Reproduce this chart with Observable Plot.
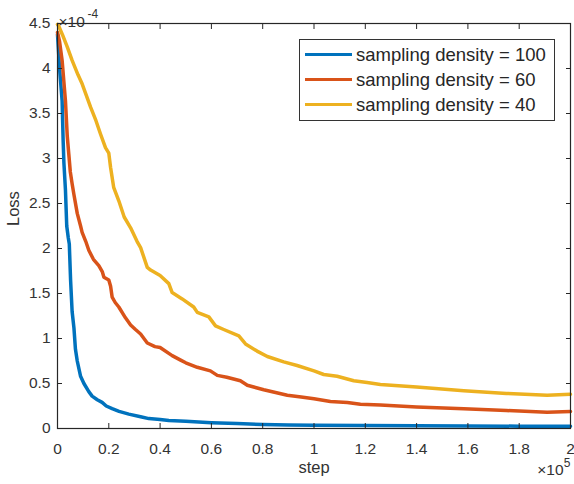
<!DOCTYPE html>
<html>
<head>
<meta charset="utf-8">
<script src="https://cdn.jsdelivr.net/npm/d3@7"></script>
<script src="https://cdn.jsdelivr.net/npm/@observablehq/plot@0.6"></script>
<style>
  html, body { margin: 0; padding: 0; background: #fff; }
  #wrap { position: relative; width: 574px; height: 484px; }
  #legend {
    position: absolute; left: 299px; top: 39px; width: 254px; height: 78px;
    border: 1px solid #333; background: #fff;
    font-family: "Liberation Sans", Arial, sans-serif; font-size: 18.5px; color: #262626;
    box-sizing: content-box; padding-top: 2px;
  }
  .row { display: flex; align-items: center; height: 25px; }
  .sw { width: 47px; height: 3.5px; margin-left: 5px; margin-right: 4px; }
</style>
</head>
<body>
<div id="wrap"></div>
<script>
// step in units of 1e5, loss in units of 1e-4
const seriesNames = ["sampling density = 100", "sampling density = 60", "sampling density = 40"];
const seriesColors = ["#0072BD", "#D95319", "#EDB120"];

const steps100 = [0, 0.008, 0.018, 0.022, 0.025, 0.031, 0.036, 0.042, 0.046, 0.051, 0.057, 0.064, 0.07, 0.077, 0.09, 0.103, 0.122, 0.135, 0.155, 0.174, 0.19, 0.213, 0.24, 0.278, 0.324, 0.356, 0.4, 0.434, 0.5, 0.6, 0.7, 0.8, 0.9, 1.0, 1.2, 1.4, 1.6, 1.8, 2.0];
const loss100  = [4.38, 4.0, 3.64, 3.2, 2.95, 2.65, 2.25, 2.12, 2.05, 1.65, 1.3, 1.12, 0.88, 0.75, 0.58, 0.5, 0.41, 0.36, 0.32, 0.29, 0.25, 0.22, 0.19, 0.16, 0.13, 0.11, 0.1, 0.09, 0.08, 0.065, 0.055, 0.045, 0.04, 0.037, 0.033, 0.03, 0.028, 0.026, 0.025];

const steps60 = [0, 0.008, 0.018, 0.031, 0.038, 0.044, 0.05, 0.057, 0.064, 0.077, 0.09, 0.096, 0.11, 0.122, 0.14, 0.161, 0.175, 0.181, 0.2, 0.207, 0.213, 0.225, 0.239, 0.265, 0.285, 0.304, 0.324, 0.35, 0.38, 0.4, 0.447, 0.48, 0.5, 0.545, 0.596, 0.623, 0.66, 0.713, 0.74, 0.804, 0.85, 0.896, 0.95, 1.0, 1.064, 1.13, 1.181, 1.259, 1.4, 1.584, 1.75, 1.909, 2.0];
const loss60  = [4.4, 4.3, 4.09, 3.64, 3.25, 3.05, 2.85, 2.72, 2.6, 2.39, 2.25, 2.18, 2.08, 1.98, 1.88, 1.81, 1.74, 1.68, 1.65, 1.58, 1.46, 1.4, 1.35, 1.23, 1.15, 1.1, 1.05, 0.95, 0.91, 0.9, 0.81, 0.76, 0.73, 0.68, 0.64, 0.59, 0.57, 0.53, 0.48, 0.43, 0.4, 0.37, 0.35, 0.33, 0.3, 0.29, 0.27, 0.26, 0.24, 0.22, 0.2, 0.18, 0.19];

const steps40 = [0, 0.005, 0.02, 0.038, 0.057, 0.08, 0.096, 0.129, 0.15, 0.168, 0.187, 0.2, 0.207, 0.219, 0.239, 0.26, 0.285, 0.31, 0.324, 0.35, 0.363, 0.4, 0.434, 0.447, 0.486, 0.531, 0.545, 0.59, 0.616, 0.648, 0.707, 0.733, 0.778, 0.818, 0.882, 0.934, 1.0, 1.038, 1.09, 1.155, 1.207, 1.259, 1.4, 1.584, 1.75, 1.909, 2.0];
const loss40  = [4.49, 4.47, 4.37, 4.24, 4.09, 3.93, 3.83, 3.57, 3.42, 3.27, 3.12, 3.06, 2.9, 2.68, 2.53, 2.35, 2.23, 2.08, 2.01, 1.79, 1.76, 1.7, 1.61, 1.51, 1.44, 1.35, 1.29, 1.24, 1.14, 1.1, 1.03, 0.94, 0.86, 0.8, 0.74, 0.7, 0.64, 0.6, 0.58, 0.53, 0.51, 0.49, 0.46, 0.42, 0.39, 0.37, 0.38];

const xTicks = [0, 0.2, 0.4, 0.6, 0.8, 1, 1.2, 1.4, 1.6, 1.8, 2];
const yTicks = [0, 0.5, 1, 1.5, 2, 2.5, 3, 3.5, 4, 4.5];
const xLabel = "step";
const yLabel = "Loss";

const stepsAll = [steps100, steps60, steps40];
const lossAll = [loss100, loss60, loss40];
const data = [];
seriesNames.forEach((name, i) => {
  stepsAll[i].forEach((s, j) => data.push({series: name, step: s, loss: lossAll[i][j]}));
});

const fmt = d => String(d);
const ink = "#262626";

const chart = Plot.plot({
  width: 574, height: 484,
  marginLeft: 57, marginRight: 4, marginTop: 23, marginBottom: 56,
  style: {fontFamily: "'Liberation Sans', Arial, sans-serif", fontSize: "15.5px", color: "#333", background: "#fff"},
  x: {domain: [0, 2]},
  y: {domain: [0, 4.5]},
  color: {domain: seriesNames, range: seriesColors},
  marks: [
    Plot.line(data, {x: "step", y: "loss", z: "series", stroke: "series", strokeWidth: 3.5, strokeLinejoin: "round"}),
    Plot.frame({stroke: ink, strokeWidth: 1.2}),
    Plot.axisX(xTicks, {anchor: "bottom", tickSize: -5, tickPadding: 19, tickFormat: fmt, label: null, stroke: ink, fill: "#333"}),
    Plot.axisX(xTicks, {anchor: "top", tickSize: -5, tickFormat: () => "", label: null, stroke: ink}),
    Plot.axisY(yTicks, {anchor: "left", tickSize: -5, tickPadding: 12, tickFormat: fmt, label: null, stroke: ink, fill: "#333"}),
    Plot.axisY(yTicks, {anchor: "right", tickSize: -5, tickFormat: () => "", label: null, stroke: ink}),
    Plot.text([xLabel], {frameAnchor: "bottom", dy: 44, text: d => d, fontSize: 16.5, fill: "#333"}),
    Plot.text([yLabel], {frameAnchor: "left", dx: -44, rotate: -90, text: d => d, fontSize: 16.5, fill: "#333"}),
    Plot.text(["×10"], {frameAnchor: "bottom-right", dx: -7, dy: 46, textAnchor: "end", text: d => d, fontSize: 15.5, fill: "#333"}),
    Plot.text(["5"], {frameAnchor: "bottom-right", dx: 0, dy: 38, textAnchor: "end", text: d => d, fontSize: 12, fill: "#333"}),
    Plot.text(["×10"], {frameAnchor: "top-left", dx: 1, dy: -8, textAnchor: "start", text: d => d, fontSize: 15.5, fill: "#333"}),
    Plot.text(["-4"], {frameAnchor: "top-left", dx: 30, dy: -14, textAnchor: "start", text: d => d, fontSize: 12, fill: "#333"})
  ]
});

const wrap = document.getElementById("wrap");
wrap.appendChild(chart);

const legend = document.createElement("div");
legend.id = "legend";
seriesNames.forEach((name, i) => {
  const row = document.createElement("div");
  row.className = "row";
  const sw = document.createElement("div");
  sw.className = "sw";
  sw.style.background = seriesColors[i];
  const t = document.createElement("span");
  t.textContent = name;
  row.appendChild(sw);
  row.appendChild(t);
  legend.appendChild(row);
});
wrap.appendChild(legend);
</script>
</body>
</html>
